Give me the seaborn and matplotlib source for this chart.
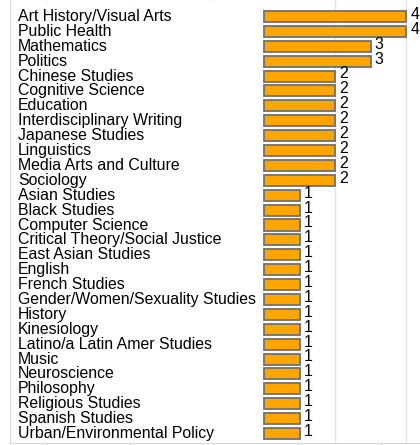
import numpy as np
import pandas as pd
import seaborn as sns
import matplotlib.pyplot as plt
import matplotlib.transforms as mtransforms

majors = ['Art History/Visual Arts', 'Public Health', 'Mathematics', 'Politics',
          'Chinese Studies', 'Cognitive Science', 'Education',
          'Interdisciplinary Writing', 'Japanese Studies', 'Linguistics',
          'Media Arts and Culture', 'Sociology', 'Asian Studies', 'Black Studies',
          'Computer Science', 'Critical Theory/Social Justice', 'East Asian Studies',
          'English', 'French Studies', 'Gender/Women/Sexuality Studies', 'History',
          'Kinesiology', 'Latino/a Latin Amer Studies', 'Music', 'Neuroscience',
          'Philosophy', 'Religious Studies', 'Spanish Studies',
          'Urban/Environmental Policy']
counts = [4, 4, 3, 3, 2, 2, 2, 2, 2, 2, 2, 2, 1, 1, 1, 1, 1, 1, 1, 1, 1, 1, 1, 1,
          1, 1, 1, 1, 1]

data = pd.DataFrame({'Major': majors, 'Count': counts})

sns.set_style('white')
plt.rcParams['font.family'] = ['Liberation Sans', 'DejaVu Sans']

fig = plt.figure(figsize=(4.2, 4.45), dpi=100)
ax = fig.add_axes([10 / 420, 2 / 445, 1 - 10 / 420, 1 - 2 / 445])

g = sns.barplot(data=data, x='Count', y='Major', orient='h',
                color='#FFA500', edgecolor='#707070', linewidth=1.3,
                width=0.74, saturation=1, ax=ax)
vals = ax.bar_label(ax.containers[0], padding=3, fontsize=11.4, color='black')
for t in vals:
    t.xyann = (3, 1.5)

n = len(majors)
px = 35.5
row = 14.89
ax.set_xlim(-(264 - 10) / px, (420 - 264) / px)
ax.set_ylim(n - 1 + 9.5 / row, -16.5 / row)

# category labels in the left column
trans = mtransforms.blended_transform_factory(ax.transAxes, ax.transData)
for i, name in enumerate(majors):
    ax.text(8 / 410, i, name, transform=trans, ha='left', va='center',
            fontsize=11.4, color='black')

ax.set_yticks([])
ax.set_ylabel('')
ax.set_xlabel('')
for v in [2, 4]:
    ax.axvline(v, color='#e4e4e4', linewidth=1, zorder=0)
ticks = (np.array([47, 130, 214, 298, 381]) - 264) / px
ax.set_xticks(ticks)
ax.set_xticklabels([])
ax.tick_params(axis='x', which='both', bottom=True, top=True, direction='out',
               length=3, color='#d8d8d8', width=1)
for s in ['left', 'bottom']:
    ax.spines[s].set_color('#d8d8d8')
ax.spines['top'].set_visible(False)
ax.spines['right'].set_visible(False)

fig.savefig('out.png', dpi=100)
